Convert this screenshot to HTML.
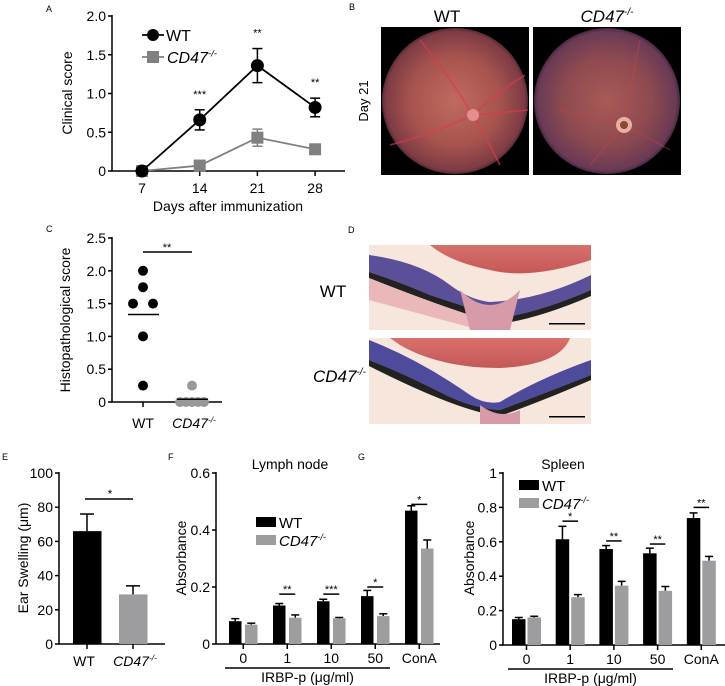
<!DOCTYPE html>
<html><head><meta charset="utf-8">
<style>
html,body{margin:0;padding:0;background:#fff;}
svg{display:block;font-family:"Liberation Sans",Arial,sans-serif;}
</style></head>
<body>
<svg id="fig" width="725" height="686" viewBox="0 0 725 686" xmlns="http://www.w3.org/2000/svg">
<defs>
<radialGradient id="fundWT" cx="0.5" cy="0.5" r="0.5">
<stop offset="0" stop-color="#c06a60"/><stop offset="0.6" stop-color="#a8544e"/><stop offset="0.95" stop-color="#7e3c45"/><stop offset="1" stop-color="#5a2a35"/>
</radialGradient>
<radialGradient id="fundKO" cx="0.5" cy="0.5" r="0.5">
<stop offset="0" stop-color="#a85a55"/><stop offset="0.6" stop-color="#8e4a50"/><stop offset="0.95" stop-color="#6a3a55"/><stop offset="1" stop-color="#4a2840"/>
</radialGradient>
<linearGradient id="lens" x1="0" y1="0" x2="0" y2="1"><stop offset="0" stop-color="#d8706a"/><stop offset="1" stop-color="#c45858"/></linearGradient>
</defs>

<text x="46" y="12" font-size="9">A</text>
<text x="349" y="10" font-size="9">B</text>
<text x="46" y="232" font-size="9">C</text>
<text x="348" y="233" font-size="9">D</text>
<text x="2" y="460" font-size="9">E</text>
<text x="168" y="460" font-size="9">F</text>
<text x="358" y="460" font-size="9">G</text>

<g>
<text x="447" y="22" font-size="17" text-anchor="middle">WT</text>
<text x="607" y="22" font-size="17" font-style="italic" text-anchor="middle">CD47<tspan font-size="10" dy="-7">-/-</tspan></text>
<text transform="translate(368,101) rotate(-90)" font-size="13" text-anchor="middle">Day 21</text>
<rect x="381" y="27" width="148" height="148" fill="#000"/>
<circle cx="455" cy="101" r="73" fill="url(#fundWT)"/>
<g stroke="#d83c50" stroke-width="1.6" fill="none" opacity="0.7">
<path d="M473 115 Q445 70 420 40"/><path d="M473 115 Q500 90 525 75"/><path d="M473 115 Q430 135 390 145"/><path d="M473 115 Q490 145 500 165"/><path d="M473 115 L528 110"/>
</g>
<circle cx="473" cy="115" r="6" fill="#e88c90"/>
<rect x="533" y="27" width="148" height="148" fill="#000"/>
<circle cx="607" cy="101" r="73" fill="url(#fundKO)"/>
<g stroke="#c8404e" stroke-width="1.2" fill="none" opacity="0.5">
<path d="M624 125 Q632 80 640 40"/><path d="M624 125 L560 110"/><path d="M624 125 L670 150"/><path d="M624 125 L590 165"/>
</g>
<circle cx="624" cy="125" r="8" fill="#e8b0a0"/><circle cx="624" cy="125" r="4" fill="#8a4a30"/>
</g>

<g>
<text x="333" y="297" font-size="17" text-anchor="middle">WT</text>
<text x="313" y="382" font-size="17" font-style="italic" text-anchor="start">CD47<tspan font-size="10" dy="-7">-/-</tspan></text>
<g>
<rect x="369" y="245" width="222" height="85" fill="#f6e6dc"/>
<path d="M430 245 L591 245 L591 260 Q530 280 490 270 Q450 262 430 245Z" fill="url(#lens)"/>
<path d="M369 255 Q420 262 450 285 Q470 300 490 302 Q540 300 591 275 L591 290 Q540 312 500 318 Q460 305 430 295 Q400 282 369 272Z" fill="#5b4f9a"/>
<path d="M369 272 Q400 282 430 295 Q460 305 500 318 Q540 312 591 290 L591 296 Q540 318 500 324 Q455 312 369 278Z" fill="#222"/>
<path d="M369 278 Q455 312 500 324 L480 330 L369 300Z" fill="#eab8b8"/>
<path d="M460 290 Q490 320 520 290 L510 330 L470 330Z" fill="#d69aa8"/>
<rect x="549" y="323" width="36" height="1.5" fill="#000"/>
</g>
<g>
<rect x="369" y="338" width="222" height="86" fill="#f6e6dc"/>
<path d="M390 338 L570 338 Q560 365 500 368 Q440 368 400 345Z" fill="url(#lens)"/>
<path d="M369 340 Q420 360 470 395 Q485 405 500 402 Q540 378 591 360 L591 375 Q540 395 500 410 Q470 408 440 392 Q400 372 369 360Z" fill="#4e4a9c"/>
<path d="M369 360 Q400 372 440 392 Q470 408 500 410 Q540 395 591 375 L591 380 Q540 402 500 416 Q460 412 369 366Z" fill="#222"/>
<path d="M480 405 Q500 420 520 410 L520 424 L480 424Z" fill="#d69aa8"/>
<rect x="549" y="416" width="36" height="1.5" fill="#000"/>
</g>
</g>

<g id="chartA"></g>
<g id="chartC"></g>
<g id="chartE"></g>
<g id="chartF"></g>
<g id="chartG"></g>
</svg>

<script>
const daysA = [7, 14, 21, 28];
const wtA = [0, 0.66, 1.36, 0.82];
const wtAErr = [0.02, 0.13, 0.22, 0.12];
const koA = [0, 0.07, 0.43, 0.28];
const koAErr = [0.02, 0.03, 0.11, 0.05];
const starsA = ['', '***', '**', '**'];
const ticksA = [0, 0.5, 1.0, 1.5, 2.0];
const tickLabelsA = ['0', '0.5', '1.0', '1.5', '2.0'];

const wtC = [2.0, 1.75, 1.5, 1.5, 1.0, 0.25];
const koC = [0.25, 0, 0, 0, 0, 0];
const ticksC = [0, 0.5, 1.0, 1.5, 2.0, 2.5];
const tickLabelsC = ['0', '0.5', '1.0', '1.5', '2.0', '2.5'];

const groupsE = ['WT', 'CD47'];
const valuesE = [66, 29];
const errE = [10, 5];
const ticksE = [0, 20, 40, 60, 80, 100];

const catsF = ['0', '1', '10', '50', 'ConA'];
const wtF = [0.08, 0.135, 0.15, 0.168, 0.468];
const wtFErr = [0.009, 0.007, 0.007, 0.02, 0.017];
const koF = [0.068, 0.092, 0.09, 0.098, 0.335];
const koFErr = [0.005, 0.01, 0.003, 0.008, 0.03];
const starsF = ['', '**', '***', '*', '*'];
const sigF = [0, 0.175, 0.175, 0.2, 0.49];
const ticksF = [0, 0.2, 0.4, 0.6];
const tickLabelsF = ['0', '0.2', '0.4', '0.6'];

const catsG = ['0', '1', '10', '50', 'ConA'];
const wtG = [0.15, 0.615, 0.558, 0.533, 0.738];
const wtGErr = [0.01, 0.075, 0.02, 0.03, 0.03];
const koG = [0.16, 0.278, 0.345, 0.315, 0.49];
const koGErr = [0.007, 0.015, 0.025, 0.025, 0.025];
const starsG = ['', '*', '**', '**', '**'];
const sigG = [0, 0.72, 0.605, 0.587, 0.8];
const ticksG = [0, 0.2, 0.4, 0.6, 0.8, 1];
const tickLabelsG = ['0', '0.2', '0.4', '0.6', '0.8', '1'];

const NS = 'http://www.w3.org/2000/svg';
function mk(parent, tag, attrs, text) {
  const e = document.createElementNS(NS, tag);
  for (const k in attrs) e.setAttribute(k, attrs[k]);
  if (text !== undefined) e.textContent = text;
  parent.appendChild(e);
  return e;
}
function ko(parent, x, y, anchor, size) {
  const t = mk(parent, 'text', {x: x, y: y, 'font-size': size, 'font-style': 'italic', 'text-anchor': anchor});
  t.appendChild(document.createTextNode('CD47'));
  const s = document.createElementNS(NS, 'tspan');
  s.setAttribute('font-size', size * 0.6); s.setAttribute('dy', -size * 0.4);
  s.textContent = '-/-'; t.appendChild(s);
  return t;
}
function errbar(g, x, y1, y2, half, color) {
  mk(g, 'line', {x1: x, x2: x, y1: y1, y2: y2, stroke: color, 'stroke-width': 1.5});
  mk(g, 'line', {x1: x - half, x2: x + half, y1: y2, y2: y2, stroke: color, 'stroke-width': 1.5});
}
function yAxis(g, x, yTop, yBot, ticks, labels, scale, fs) {
  mk(g, 'line', {x1: x, x2: x, y1: yTop, y2: yBot, stroke: '#000', 'stroke-width': 1.5});
  ticks.forEach((t, i) => {
    const y = scale(t);
    mk(g, 'line', {x1: x - 4, x2: x, y1: y, y2: y, stroke: '#000', 'stroke-width': 1.5});
    const lb = mk(g, 'text', {x: x - 6, y: y + fs * 0.36, 'font-size': fs, 'text-anchor': 'end'}, labels[i]);
    
    
  });
}

(function () {
  const g = document.getElementById('chartA');
  const xA = d => 142 + (d - 7) / 7 * 57.7;
  const yA = v => 171 - v / 2 * 155;
  yAxis(g, 112, 15, 171, ticksA, tickLabelsA, yA, 14);
  mk(g, 'line', {x1: 111, x2: 345, y1: 171, y2: 171, stroke: '#000', 'stroke-width': 1.5});
  daysA.forEach(d => {
    mk(g, 'line', {x1: xA(d), x2: xA(d), y1: 171, y2: 176, stroke: '#000', 'stroke-width': 1.5});
    const t = mk(g, 'text', {x: xA(d), y: 193, 'font-size': 14, 'text-anchor': 'middle'}, String(d));
    
    
  });
  const xt = mk(g, 'text', {x: 228, y: 211, 'font-size': 14, 'text-anchor': 'middle'}, 'Days after immunization');
  
  
  const yt = mk(g, 'text', {transform: 'translate(72,93) rotate(-90)', 'font-size': 14, 'text-anchor': 'middle'}, 'Clinical score');
  
  
  const kl = mk(g, 'polyline', {points: daysA.map((d, i) => xA(d) + ',' + yA(koA[i])).join(' '), fill: 'none', stroke: '#808080', 'stroke-width': 1.8});
  
  
  daysA.forEach((d, i) => {
    errbar(g, xA(d), yA(koA[i]), yA(koA[i] + koAErr[i]), 5, '#808080');
    errbar(g, xA(d), yA(koA[i]), yA(koA[i] - koAErr[i]), 5, '#808080');
    const s = mk(g, 'rect', {x: xA(d) - 6, y: yA(koA[i]) - 6, width: 12, height: 12, fill: '#808080'});
    
    
  });
  const wl = mk(g, 'polyline', {points: daysA.map((d, i) => xA(d) + ',' + yA(wtA[i])).join(' '), fill: 'none', stroke: '#000', 'stroke-width': 1.8});
  
  
  daysA.forEach((d, i) => {
    errbar(g, xA(d), yA(wtA[i]), yA(wtA[i] + wtAErr[i]), 5, '#000');
    errbar(g, xA(d), yA(wtA[i]), yA(wtA[i] - wtAErr[i]), 5, '#000');
    const c = mk(g, 'circle', {cx: xA(d), cy: yA(wtA[i]), r: 6.5, fill: '#000'});
    
    
    if (starsA[i]) {
      const st = mk(g, 'text', {x: xA(d), y: yA(wtA[i] + wtAErr[i]) - 12, 'font-size': 11, 'text-anchor': 'middle'}, starsA[i]);
      
      
    }
  });
  const lg = mk(g, 'g', {});
  
  
  mk(lg, 'line', {x1: 142, x2: 164, y1: 35, y2: 35, stroke: '#000', 'stroke-width': 1.8});
  mk(lg, 'circle', {cx: 153, cy: 35, r: 6, fill: '#000'});
  mk(lg, 'text', {x: 166, y: 41, 'font-size': 16}, 'WT');
  mk(lg, 'line', {x1: 142, x2: 164, y1: 57, y2: 57, stroke: '#808080', 'stroke-width': 1.8});
  mk(lg, 'rect', {x: 147, y: 51, width: 12, height: 12, fill: '#808080'});
  ko(lg, 167, 63, 'start', 16);
})();

(function () {
  const g = document.getElementById('chartC');
  const yC = v => 402 - v / 2.5 * 164;
  yAxis(g, 112, 237, 402, ticksC, tickLabelsC, yC, 14);
  mk(g, 'line', {x1: 111, x2: 222, y1: 402, y2: 402, stroke: '#000', 'stroke-width': 1.5});
  [143, 192].forEach(x => mk(g, 'line', {x1: x, x2: x, y1: 402, y2: 407, stroke: '#000', 'stroke-width': 1.5}));
  mk(g, 'text', {x: 143, y: 428, 'font-size': 14, 'text-anchor': 'middle'}, 'WT');
  ko(g, 194, 428, 'middle', 14);
  const yt = mk(g, 'text', {transform: 'translate(70,320) rotate(-90)', 'font-size': 14, 'text-anchor': 'middle'}, 'Histopathological score');
  
  
  const seen = {};
  wtC.forEach(v => {
    const n = seen[v] || 0; seen[v] = n + 1;
    const dupCount = wtC.filter(w => w === v).length;
    const x = 143 + (n - (dupCount - 1) / 2) * 20;
    const c = mk(g, 'circle', {cx: x, cy: yC(v), r: 5, fill: '#000'});
    
    
  });
  const seenK = {};
  koC.forEach(v => {
    const n = seenK[v] || 0; seenK[v] = n + 1;
    const dupCount = koC.filter(w => w === v).length;
    const x = 192 + (n - (dupCount - 1) / 2) * 6;
    const c = mk(g, 'circle', {cx: x, cy: yC(v), r: 5, fill: '#999'});
    
    
  });
  const mW = wtC.reduce((a, b) => a + b, 0) / wtC.length;
  const mK = koC.reduce((a, b) => a + b, 0) / koC.length;
  mk(g, 'line', {x1: 128, x2: 159, y1: yC(mW), y2: yC(mW), stroke: '#000', 'stroke-width': 1.5});
  mk(g, 'line', {x1: 177, x2: 208, y1: yC(mK), y2: yC(mK), stroke: '#000', 'stroke-width': 1.5});
  mk(g, 'line', {x1: 143, x2: 192, y1: 252, y2: 252, stroke: '#000', 'stroke-width': 1.5});
  mk(g, 'text', {x: 167, y: 251, 'font-size': 11, 'text-anchor': 'middle'}, '**');
})();

(function () {
  const g = document.getElementById('chartE');
  const yE = v => 644 - v / 100 * 171;
  yAxis(g, 59, 472, 644, ticksE, ticksE.map(String), yE, 14);
  mk(g, 'line', {x1: 58, x2: 165, y1: 644, y2: 644, stroke: '#000', 'stroke-width': 1.5});
  const xs = [87, 133];
  const cols = ['#000', '#9d9d9f'];
  groupsE.forEach((gr, i) => {
    errbar(g, xs[i], yE(valuesE[i]), yE(valuesE[i] + errE[i]), 7, '#000');
    const b = mk(g, 'rect', {x: xs[i] - 14, y: yE(valuesE[i]), width: 28.5, height: 644 - yE(valuesE[i]), fill: cols[i]});
    
    
    mk(g, 'line', {x1: xs[i], x2: xs[i], y1: 644, y2: 649, stroke: '#000', 'stroke-width': 1.5});
  });
  mk(g, 'text', {x: 84, y: 666, 'font-size': 14, 'text-anchor': 'middle'}, 'WT');
  ko(g, 135, 666, 'middle', 14);
  mk(g, 'line', {x1: 85, x2: 133, y1: 499, y2: 499, stroke: '#000', 'stroke-width': 1.5});
  mk(g, 'text', {x: 110, y: 498, 'font-size': 12, 'text-anchor': 'middle'}, '*');
  const yt = mk(g, 'text', {transform: 'translate(28,558) rotate(-90)', 'font-size': 14, 'text-anchor': 'middle'}, 'Ear Swelling (μm)');
  
  
})();

function grouped(id, cfg) {
  const g = document.getElementById(id);
  const y = v => cfg.y0 - v / cfg.vmax * (cfg.y0 - cfg.yTop);
  yAxis(g, cfg.ax, cfg.yTop - 1, cfg.y0, cfg.ticks, cfg.tickLabels, y, 14);
  mk(g, 'line', {x1: cfg.ax - 1, x2: cfg.axEnd, y1: cfg.y0, y2: cfg.y0, stroke: '#000', 'stroke-width': 1.5});
  cfg.cats.forEach((c, i) => {
    const bx = cfg.first + i * cfg.step;
    const kx = bx + cfg.bw + cfg.gap;
    errbar(g, bx + cfg.bw / 2, y(cfg.wt[i]), y(cfg.wt[i] + cfg.wtErr[i]), 4, '#000');
    const b1 = mk(g, 'rect', {x: bx, y: y(cfg.wt[i]), width: cfg.bw, height: cfg.y0 - y(cfg.wt[i]), fill: '#000'});
    
    
    errbar(g, kx + cfg.bw / 2, y(cfg.ko[i]), y(cfg.ko[i] + cfg.koErr[i]), 4, '#000');
    const b2 = mk(g, 'rect', {x: kx, y: y(cfg.ko[i]), width: cfg.bw, height: cfg.y0 - y(cfg.ko[i]), fill: '#9d9d9f'});
    
    
    const cx = bx + cfg.bw + cfg.gap / 2;
    mk(g, 'line', {x1: cx, x2: cx, y1: cfg.y0, y2: cfg.y0 + 5, stroke: '#000', 'stroke-width': 1.5});
    const tl = mk(g, 'text', {x: cx, y: cfg.y0 + 19, 'font-size': 14, 'text-anchor': 'middle'}, c);
    
    
    if (cfg.stars[i]) {
      const sy = y(cfg.sig[i]);
      mk(g, 'line', {x1: bx + cfg.bw / 2, x2: kx + cfg.bw / 2, y1: sy, y2: sy, stroke: '#000', 'stroke-width': 1.5});
      const st = mk(g, 'text', {x: cx, y: sy - 1, 'font-size': 11, 'text-anchor': 'middle'}, cfg.stars[i]);
      
      
    }
  });
  mk(g, 'line', {x1: cfg.lineX1, x2: cfg.lineX2, y1: cfg.y0 + 24, y2: cfg.y0 + 24, stroke: '#000', 'stroke-width': 1.5});
  const xl = mk(g, 'text', {x: (cfg.lineX1 + cfg.lineX2) / 2, y: cfg.y0 + 38, 'font-size': 14, 'text-anchor': 'middle'}, 'IRBP-p (μg/ml)');
  
  
  const tt = mk(g, 'text', {x: cfg.titleX, y: 469, 'font-size': 14, 'text-anchor': 'middle'}, cfg.title);
  
  
  const yt = mk(g, 'text', {transform: 'translate(' + cfg.ytX + ',558) rotate(-90)', 'font-size': 14, 'text-anchor': 'middle'}, 'Absorbance');
  
  
  const lg = mk(g, 'g', {});
  
  
  mk(lg, 'rect', {x: cfg.lgX, y: cfg.lgY, width: 20, height: 10, fill: '#000'});
  mk(lg, 'text', {x: cfg.lgX + 23, y: cfg.lgY + 11, 'font-size': 15}, 'WT');
  mk(lg, 'rect', {x: cfg.lgX, y: cfg.lgY + 18, width: 20, height: 10, fill: '#9d9d9f'});
  ko(lg, cfg.lgX + 23, cfg.lgY + 29, 'start', 15);
}

grouped('chartF', {cats: catsF, wt: wtF, wtErr: wtFErr, ko: koF, koErr: koFErr, stars: starsF, sig: sigF,
  ticks: ticksF, tickLabels: tickLabelsF, vmax: 0.6, y0: 644, yTop: 473, ax: 216, axEnd: 440,
  first: 229, step: 44, bw: 12.5, gap: 3.5, lineX1: 225, lineX2: 390, title: 'Lymph node', titleX: 290,
  ytX: 186, lgX: 256, lgY: 517});
grouped('chartG', {cats: catsG, wt: wtG, wtErr: wtGErr, ko: koG, koErr: koGErr, stars: starsG, sig: sigG,
  ticks: ticksG, tickLabels: tickLabelsG, vmax: 1, y0: 645, yTop: 473, ax: 503, axEnd: 725,
  first: 512, step: 43.7, bw: 13.5, gap: 2, lineX1: 508, lineX2: 673, title: 'Spleen', titleX: 563,
  ytX: 474, lgX: 519, lgY: 480});
</script>
</body></html>
